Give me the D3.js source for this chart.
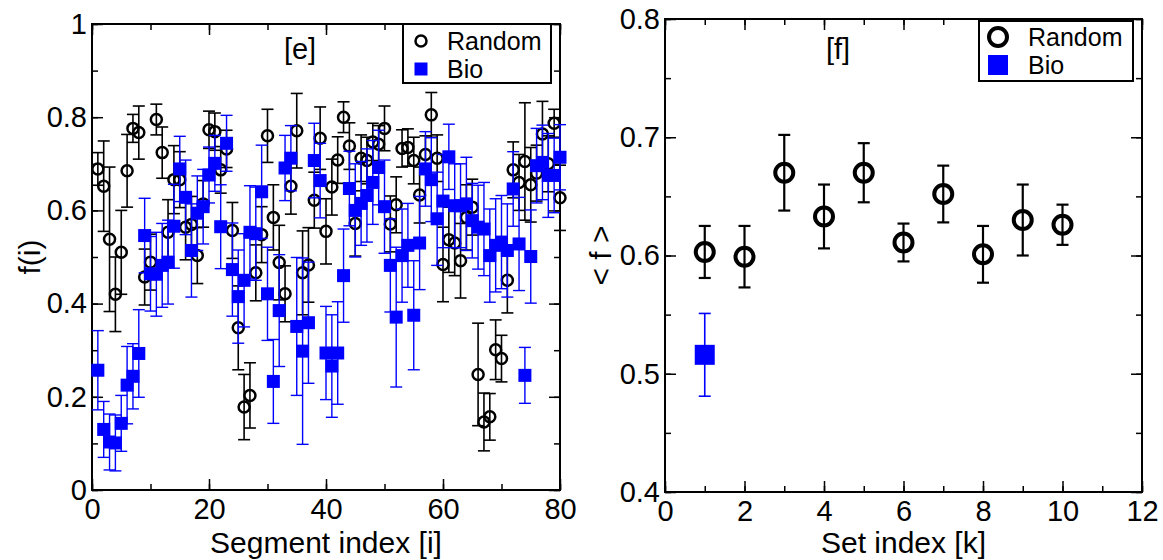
<!DOCTYPE html>
<html>
<head>
    <meta charset="utf-8">
    <title>f(i) panels</title>
    <script src="https://cdn.jsdelivr.net/npm/d3@7"></script>
    <style>
        html, body {
            margin: 0;
            background-color: #fff;
            font-family: "Liberation Sans", Arial, Helvetica, sans-serif;
        }
        svg .tick text {
            font-family: "Liberation Sans", Arial, sans-serif;
            font-size: 29px;
            fill: #000;
        }
        svg .domain { display: none; }
        svg .tick line { stroke: #000; stroke-width: 1.5; }
        svg .title {
            font-size: 30px;
            text-anchor: middle;
        }
        svg .legend text { font-size: 25px; }
    </style>
</head>
<body>
<svg></svg>
<script>
    // ---- panel [e] : per-segment values, i = 1..80 ----
    var segIndex = d3.range(1, 81);

    var randomF = [
        0.689, 0.652, 0.538, 0.420, 0.510, 0.685, 0.776, 0.767, 0.457, 0.489,
        0.795, 0.724, 0.553, 0.666, 0.666, 0.564, 0.570, 0.503, 0.614, 0.773,
        0.769, 0.687, 0.732, 0.557, 0.348, 0.178, 0.203, 0.466, 0.548, 0.760,
        0.585, 0.488, 0.421, 0.652, 0.771, 0.466, 0.483, 0.622, 0.755, 0.555,
        0.650, 0.708, 0.800, 0.738, 0.572, 0.712, 0.707, 0.747, 0.742, 0.776,
        0.571, 0.612, 0.733, 0.735, 0.707, 0.633, 0.720, 0.805, 0.712, 0.484,
        0.537, 0.530, 0.492, 0.585, 0.607, 0.248, 0.146, 0.157, 0.301, 0.282,
        0.450, 0.687, 0.660, 0.705, 0.655, 0.680, 0.764, 0.700, 0.787, 0.627
    ];
    var randomErr = [
        0.035, 0.097, 0.155, 0.080, 0.090, 0.078, 0.030, 0.057, 0.060, 0.060,
        0.033, 0.055, 0.070, 0.073, 0.060, 0.070, 0.060, 0.060, 0.050, 0.040,
        0.040, 0.050, 0.040, 0.060, 0.090, 0.070, 0.070, 0.060, 0.060, 0.057,
        0.070, 0.080, 0.060, 0.060, 0.080, 0.090, 0.080, 0.060, 0.067, 0.070,
        0.060, 0.050, 0.033, 0.050, 0.070, 0.050, 0.050, 0.040, 0.040, 0.048,
        0.060, 0.060, 0.040, 0.040, 0.050, 0.060, 0.040, 0.048, 0.050, 0.080,
        0.070, 0.070, 0.080, 0.070, 0.060, 0.110, 0.062, 0.050, 0.064, 0.050,
        0.070, 0.060, 0.060, 0.126, 0.080, 0.060, 0.070, 0.060, 0.030, 0.070
    ];

    var bioF = [
        0.257, 0.130, 0.103, 0.101, 0.143, 0.225, 0.244, 0.293, 0.546, 0.464,
        0.463, 0.482, 0.489, 0.566, 0.689, 0.628, 0.514, 0.594, 0.608, 0.676,
        0.701, 0.565, 0.744, 0.473, 0.415, 0.450, 0.553, 0.550, 0.640, 0.421,
        0.233, 0.385, 0.691, 0.712, 0.351, 0.298, 0.359, 0.707, 0.664, 0.294,
        0.266, 0.294, 0.460, 0.647, 0.600, 0.615, 0.632, 0.660, 0.692, 0.608,
        0.482, 0.371, 0.503, 0.525, 0.375, 0.530, 0.689, 0.666, 0.582, 0.620,
        0.715, 0.610, 0.610, 0.614, 0.578, 0.564, 0.560, 0.503, 0.525, 0.532,
        0.514, 0.646, 0.528, 0.246, 0.501, 0.696, 0.703, 0.675, 0.675, 0.714
    ];
    var bioErr = [
        0.085, 0.060, 0.060, 0.060, 0.060, 0.083, 0.070, 0.094, 0.080, 0.080,
        0.090, 0.090, 0.090, 0.090, 0.070, 0.080, 0.100, 0.080, 0.080, 0.060,
        0.060, 0.090, 0.060, 0.100, 0.100, 0.100, 0.100, 0.100, 0.100, 0.100,
        0.090, 0.120, 0.070, 0.070, 0.148, 0.200, 0.130, 0.080, 0.080, 0.100,
        0.110, 0.110, 0.100, 0.080, 0.100, 0.090, 0.100, 0.090, 0.080, 0.100,
        0.100, 0.150, 0.100, 0.090, 0.117, 0.100, 0.080, 0.090, 0.100, 0.100,
        0.070, 0.090, 0.090, 0.100, 0.080, 0.090, 0.100, 0.100, 0.100, 0.100,
        0.100, 0.080, 0.100, 0.060, 0.100, 0.080, 0.080, 0.090, 0.080, 0.070
    ];

    // ---- panel [f] : set averages, k = 1..10 ----
    var setIndex = d3.range(1, 11);
    var setRandom = [0.603, 0.599, 0.670, 0.633, 0.670, 0.611, 0.652, 0.601, 0.630, 0.626];
    var setRandomErr = [0.022, 0.026, 0.032, 0.027, 0.025, 0.016, 0.024, 0.024, 0.030, 0.017];
    var setBioIndex = [1];
    var setBio = [0.516];
    var setBioErr = [0.035];

    var legendLabels = ['Random', 'Bio'];

    var svg = d3.select('svg').attr('width', 1163).attr('height', 560);

    function zip(xs, ys, es) {
        return xs.map(function (x, i) { return { x: x, y: ys[i], e: es[i] }; });
    }

    function panel(o) {
        var x = d3.scaleLinear().domain(o.xDom).range([o.left, o.right]),
            y = d3.scaleLinear().domain(o.yDom).range([o.bottom, o.top]),
            g = svg.append('g');

        // minor ticks on all four sides
        g.append('g').attr('transform', 'translate(0,' + o.bottom + ')')
            .call(d3.axisBottom(x).ticks(o.xMinor).tickSize(-6).tickFormat(''));
        g.append('g').attr('transform', 'translate(0,' + o.top + ')')
            .call(d3.axisTop(x).ticks(o.xMinor).tickSize(-6).tickFormat(''));
        g.append('g').attr('transform', 'translate(' + o.left + ',0)')
            .call(d3.axisLeft(y).ticks(o.yMinor).tickSize(-6).tickFormat(''));
        g.append('g').attr('transform', 'translate(' + o.right + ',0)')
            .call(d3.axisRight(y).ticks(o.yMinor).tickSize(-6).tickFormat(''));

        // major ticks with labels
        g.append('g').attr('transform', 'translate(0,' + o.bottom + ')')
            .call(d3.axisBottom(x).tickValues(o.xTicks).tickSize(-11).tickPadding(8)
                .tickFormat(d3.format('d')));
        g.append('g').attr('transform', 'translate(0,' + o.top + ')')
            .call(d3.axisTop(x).tickValues(o.xTicks).tickSize(-11).tickFormat(''));
        g.append('g').attr('transform', 'translate(' + o.left + ',0)')
            .call(d3.axisLeft(y).tickValues(o.yTicks).tickSize(-11).tickPadding(5)
                .tickFormat(o.yFmt));
        g.append('g').attr('transform', 'translate(' + o.right + ',0)')
            .call(d3.axisRight(y).tickValues(o.yTicks).tickSize(-11).tickFormat(''));

        g.append('rect')
            .attr('x', o.left).attr('y', o.top)
            .attr('width', o.right - o.left).attr('height', o.bottom - o.top)
            .style('fill', 'none').style('stroke', '#000').style('stroke-width', 2);

        function errorBars(data, color, width, cap) {
            var eg = g.append('g').style('stroke', color).style('stroke-width', width);
            eg.selectAll('line.v').data(data).enter().append('line')
                .attr('x1', function (d) { return x(d.x); })
                .attr('x2', function (d) { return x(d.x); })
                .attr('y1', function (d) { return y(d.y - d.e); })
                .attr('y2', function (d) { return y(d.y + d.e); });
            [-1, 1].forEach(function (s) {
                eg.selectAll(null).data(data).enter().append('line')
                    .attr('x1', function (d) { return x(d.x) - cap; })
                    .attr('x2', function (d) { return x(d.x) + cap; })
                    .attr('y1', function (d) { return y(d.y + s * d.e); })
                    .attr('y2', function (d) { return y(d.y + s * d.e); });
            });
        }

        errorBars(o.random, '#000', o.barW, o.cap);
        g.append('g').selectAll('circle').data(o.random).enter().append('circle')
            .attr('cx', function (d) { return x(d.x); })
            .attr('cy', function (d) { return y(d.y); })
            .attr('r', o.r)
            .style('fill', 'none').style('stroke', '#000').style('stroke-width', o.ring);

        errorBars(o.bio, '#0000ff', o.bioBarW, o.cap);
        g.append('g').selectAll('rect').data(o.bio).enter().append('rect')
            .attr('x', function (d) { return x(d.x) - o.sq / 2; })
            .attr('y', function (d) { return y(d.y) - o.sq / 2; })
            .attr('width', o.sq).attr('height', o.sq)
            .style('fill', '#0000ff');

        // label inside the frame
        g.append('text').attr('x', o.tagX).attr('y', 59)
            .style('font-size', '29px').style('text-anchor', 'middle').text(o.tag);

        // legend
        var L = o.legend,
            lg = g.append('g').attr('class', 'legend');
        lg.append('rect')
            .attr('x', L.x).attr('y', L.y).attr('width', L.w).attr('height', L.h)
            .style('fill', '#fff').style('stroke', '#000').style('stroke-width', 2);
        lg.append('circle').attr('cx', L.mx).attr('cy', L.y + L.r1)
            .attr('r', o.r).style('fill', 'none').style('stroke', '#000')
            .style('stroke-width', o.ring);
        lg.append('rect')
            .attr('x', L.mx - o.sq / 2).attr('y', L.y + L.r2 - o.sq / 2)
            .attr('width', o.sq).attr('height', o.sq).style('fill', '#0000ff');
        lg.selectAll('text').data(legendLabels).enter().append('text')
            .attr('x', L.tx)
            .attr('y', function (d, i) { return L.y + (i ? L.r2 : L.r1) + 9; })
            .text(function (d) { return d; });

        // axis titles
        g.append('text').attr('class', 'title')
            .attr('x', (o.left + o.right) / 2).attr('y', 553)
            .text(o.xTitle);
        g.append('text').attr('class', 'title')
            .attr('transform', 'translate(' + o.yTitleX + ',' + (o.top + o.bottom) / 2 + ')rotate(-90)')
            .text(o.yTitle);
    }

    panel({
        left: 92, right: 560, top: 24, bottom: 490,
        xDom: [0, 80], yDom: [0, 1],
        xTicks: [0, 20, 40, 60, 80], xMinor: 8,
        yTicks: [0, 0.2, 0.4, 0.6, 0.8, 1], yMinor: 10,
        yFmt: function (d) { return d === 0 || d === 1 ? d3.format('d')(d) : d3.format('.1f')(d); },
        random: zip(segIndex, randomF, randomErr),
        bio: zip(segIndex, bioF, bioErr),
        r: 5.5, ring: 2.5, sq: 13, barW: 1.6, bioBarW: 1.4, cap: 6,
        tag: '[e]', tagX: 300,
        legend: { x: 403, y: 24, w: 148, h: 59, mx: 421, tx: 447, r1: 17, r2: 45 },
        xTitle: 'Segment index [i]', yTitle: 'f(i)', yTitleX: 40
    });

    panel({
        left: 665, right: 1142, top: 19, bottom: 492,
        xDom: [0, 12], yDom: [0.4, 0.8],
        xTicks: [0, 2, 4, 6, 8, 10, 12], xMinor: 12,
        yTicks: [0.4, 0.5, 0.6, 0.7, 0.8], yMinor: 8,
        yFmt: d3.format('.1f'),
        random: zip(setIndex, setRandom, setRandomErr),
        bio: zip(setBioIndex, setBio, setBioErr),
        r: 9, ring: 4, sq: 20, barW: 2.2, bioBarW: 1.6, cap: 6,
        tag: '[f]', tagX: 838,
        legend: { x: 979, y: 21, w: 154, h: 60, mx: 998, tx: 1028, r1: 16, r2: 44 },
        xTitle: 'Set index [k]', yTitle: '< f >', yTitleX: 611
    });
</script>
</body>
</html>
